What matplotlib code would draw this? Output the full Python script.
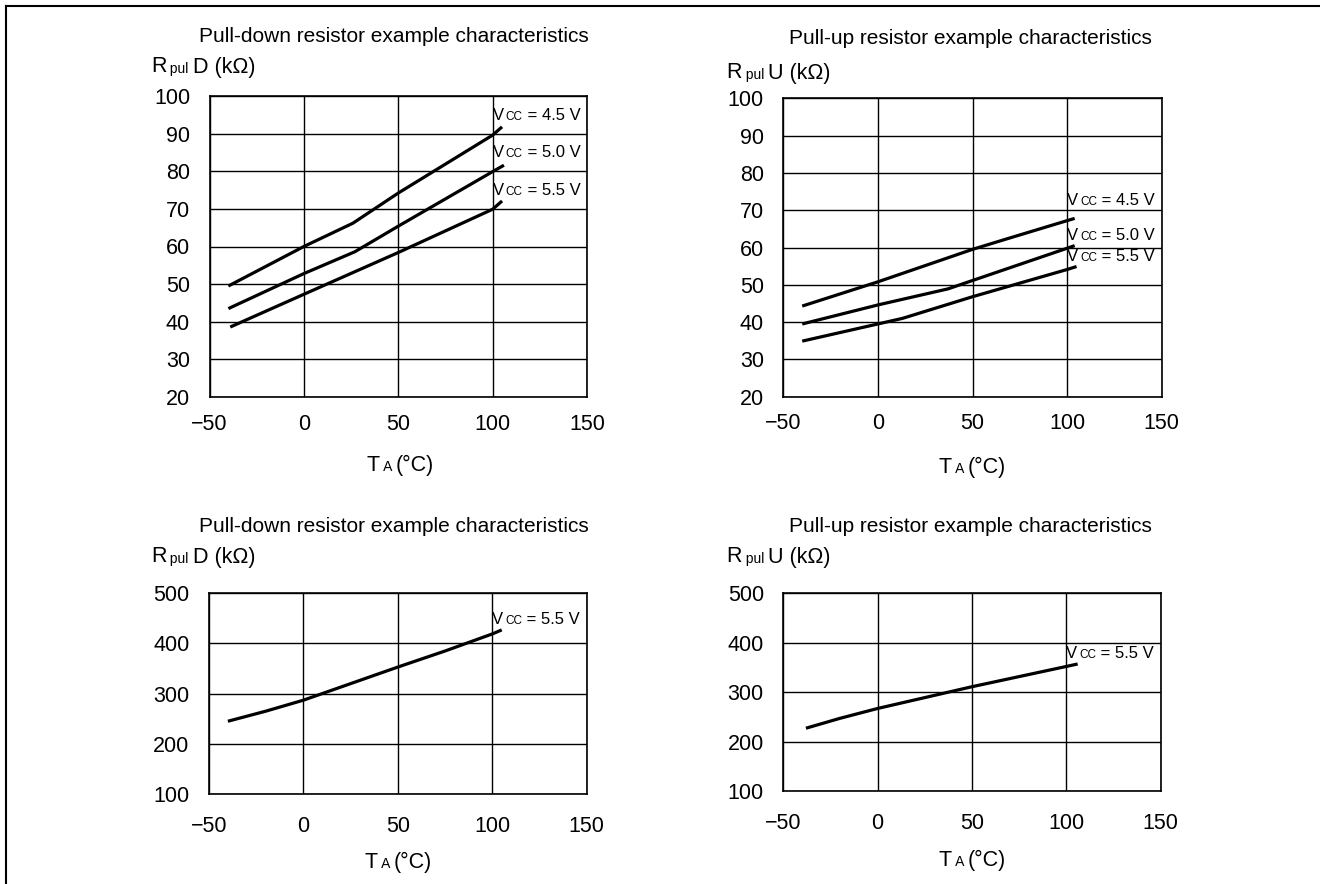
import matplotlib
matplotlib.use("Agg")
import matplotlib.pyplot as plt
from matplotlib.offsetbox import TextArea, HPacker, AnnotationBbox
from matplotlib.lines import Line2D

plt.rcParams['font.family'] = ['Liberation Sans', 'DejaVu Sans']

# ---------------- data ----------------
x_ticks = [-50, 0, 50, 100, 150]
yticks_top = [20, 30, 40, 50, 60, 70, 80, 90, 100]
yticks_bot = [100, 200, 300, 400, 500]

# top-left: pull-down
tl_t45 = [-40, 0, 26, 50, 100, 105]
tl_r45 = [49.5, 60.0, 66.2, 74.2, 89.6, 91.8]
tl_t50 = [-40, 0, 27, 50, 100, 106]
tl_r50 = [43.5, 52.8, 58.6, 65.4, 79.9, 81.6]
tl_t55 = [-39, 0, 50, 100, 105]
tl_r55 = [38.6, 47.3, 58.4, 69.9, 72.1]

# top-right: pull-up
tr_t45 = [-40, 0, 50, 70, 100, 104]
tr_r45 = [44.3, 50.8, 59.5, 62.6, 67.2, 67.8]
tr_t50 = [-40, 0, 37, 100, 104]
tr_r50 = [39.5, 44.6, 48.9, 59.8, 60.5]
tr_t55 = [-40, 0, 13, 50, 100, 105]
tr_r55 = [34.9, 39.5, 41.0, 46.8, 54.1, 54.9]

# bottom-left: pull-down, Vcc 5.5
bl_t = [-40, -20, 0, 25, 50, 75, 100, 105]
bl_r = [245, 265, 287, 320, 353, 385, 419, 427]

# bottom-right: pull-up, Vcc 5.5
br_t = [-38, -20, 0, 50, 100, 106]
br_r = [227, 247, 267, 311, 352, 357]

vcc_labels = ["4.5", "5.0", "5.5"]

# ---------------- figure ----------------
W, H = 1320, 884
fig = plt.figure(figsize=(W / 100, H / 100), dpi=100)

def px_rect(x0, y0, x1, y1):
    return [x0 / W, 1 - y1 / H, (x1 - x0) / W, (y1 - y0) / H]

def fpx(x, y):
    return (x / W, 1 - y / H)

def mixed(parts, xy, coords, ax=None, align=(0, 0.5)):
    areas = [TextArea(s, textprops=dict(fontsize=fs, family=['Liberation Sans'], color='black'))
             for s, fs in parts]
    box = HPacker(children=areas, align='baseline', pad=0, sep=0)
    ab = AnnotationBbox(box, xy, xycoords=coords, frameon=False,
                        box_alignment=align, pad=0, annotation_clip=False)
    if ax is None:
        fig.add_artist(ab)
    else:
        ax.add_artist(ab)

TICK_FS = 15.5
def setup(ax, yticks, xpad):
    ax.set_xlim(x_ticks[0], x_ticks[-1])
    ax.set_ylim(yticks[0], yticks[-1])
    ax.set_xticks(x_ticks)
    ax.set_yticks(yticks)
    ax.grid(True, color='black', linewidth=1.0)
    ax.set_axisbelow(True)
    for s in ax.spines.values():
        s.set_linewidth(1.2)
    ax.tick_params(length=0, labelsize=TICK_FS)
    ax.tick_params(axis='y', pad=14)
    ax.tick_params(axis='x', pad=xpad)

def vcc(ax, x, y, v):
    mixed([("V", 12), (" ", 5), ("CC", 8.5), (" = %s V" % v, 12)],
          (x, y), 'data', ax=ax, align=(0, 0.5))

LW = 2.3

ax1 = fig.add_axes(px_rect(209.5, 96, 587, 397))
setup(ax1, yticks_top, 12)
ax1.plot(tl_t45, tl_r45, color='black', lw=LW, solid_capstyle='butt')
ax1.plot(tl_t50, tl_r50, color='black', lw=LW, solid_capstyle='butt')
ax1.plot(tl_t55, tl_r55, color='black', lw=LW, solid_capstyle='butt')
for v, yy in zip(vcc_labels, [94.9, 84.9, 75.0]):
    vcc(ax1, 100, yy, v)

ax2 = fig.add_axes(px_rect(783.3, 98.3, 1161.7, 396.7))
setup(ax2, yticks_top, 12)
ax2.plot(tr_t45, tr_r45, color='black', lw=LW, solid_capstyle='butt')
ax2.plot(tr_t50, tr_r50, color='black', lw=LW, solid_capstyle='butt')
ax2.plot(tr_t55, tr_r55, color='black', lw=LW, solid_capstyle='butt')
for v, yy in zip(vcc_labels, [72.7, 63.1, 57.5]):
    vcc(ax2, 100, yy, v)

ax3 = fig.add_axes(px_rect(209, 593.3, 586.7, 794))
setup(ax3, yticks_bot, 16)
ax3.plot(bl_t, bl_r, color='black', lw=LW, solid_capstyle='butt')
vcc(ax3, 100, 448, "5.5")

ax4 = fig.add_axes(px_rect(783.3, 593.3, 1160.7, 791))
setup(ax4, yticks_bot, 16)
ax4.plot(br_t, br_r, color='black', lw=LW, solid_capstyle='butt')
vcc(ax4, 100, 378, "5.5")

# titles
TITLE_FS = 15
title_d = "Pull-down resistor example characteristics"
title_u = "Pull-up resistor example characteristics"
fig.text(*fpx(394, 36), title_d, ha='center', va='center', fontsize=TITLE_FS)
fig.text(*fpx(970, 39), title_u, ha='center', va='center', fontsize=TITLE_FS)
fig.text(*fpx(394, 527), title_d, ha='center', va='center', fontsize=TITLE_FS)
fig.text(*fpx(970, 527), title_u, ha='center', va='center', fontsize=TITLE_FS)

# y labels
LBL_FS = 15.5
SUB_FS = 10
mixed([("R", LBL_FS), (" pul ", SUB_FS), ("D (k\u03a9)", LBL_FS)], fpx(151, 67), 'figure fraction')
mixed([("R", LBL_FS), (" pul ", SUB_FS), ("U (k\u03a9)", LBL_FS)], fpx(726, 73), 'figure fraction')
mixed([("R", LBL_FS), (" pul ", SUB_FS), ("D (k\u03a9)", LBL_FS)], fpx(151, 557), 'figure fraction')
mixed([("R", LBL_FS), (" pul ", SUB_FS), ("U (k\u03a9)", LBL_FS)], fpx(726, 557), 'figure fraction')

# x labels
for cx, cy in [(400, 465), (972, 467), (398, 862), (972, 860)]:
    mixed([("T", LBL_FS), (" A ", SUB_FS), ("(\u00b0C)", LBL_FS)], fpx(cx, cy), 'figure fraction', align=(0.5, 0.5))

# page frame
fig.add_artist(Line2D([5.5 / W, 5.5 / W], [0, 1 - 6 / H], color='black', lw=1.5, transform=fig.transFigure))
fig.add_artist(Line2D([5.5 / W, 1], [1 - 6 / H, 1 - 6 / H], color='black', lw=1.5, transform=fig.transFigure))

fig.savefig("out.png", dpi=100)
